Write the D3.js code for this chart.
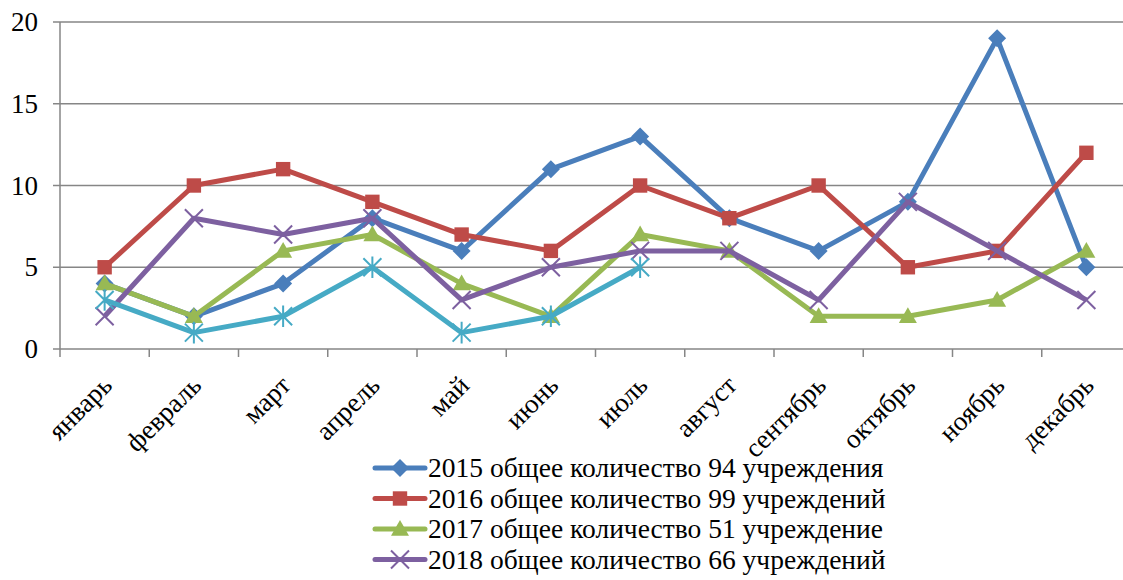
<!DOCTYPE html>
<html>
<head>
<meta charset="utf-8">
<script src="https://cdn.jsdelivr.net/npm/d3@7"></script>
<style>
  body { margin: 0; background: #fff; }
</style>
</head>
<body>
<div id="chart"></div>
<script>
const months = ["январь", "февраль", "март", "апрель", "май", "июнь", "июль", "август", "сентябрь", "октябрь", "ноябрь", "декабрь"];
const yTicks = [0, 5, 10, 15, 20];

const values2015 = [4, 2, 4, 8, 6, 11, 13, 8, 6, 9, 19, 5];
const values2016 = [5, 10, 11, 9, 7, 6, 10, 8, 10, 5, 6, 12];
const values2017 = [4, 2, 6, 7, 4, 2, 7, 6, 2, 2, 3, 6];
const values2018 = [2, 8, 7, 8, 3, 5, 6, 6, 3, 9, 6, 3];
const values2019 = [3, 1, 2, 5, 1, 2, 5];

const seriesNames = [
  "2015 общее количество 94 учреждения",
  "2016 общее количество 99 учреждений",
  "2017 общее количество 51 учреждение",
  "2018 общее количество 66 учреждений"
];

const series = [
  { name: seriesNames[0], values: values2015, color: "#4A7EBB", marker: "diamond" },
  { name: seriesNames[1], values: values2016, color: "#BE4B48", marker: "square" },
  { name: seriesNames[2], values: values2017, color: "#98B954", marker: "triangle" },
  { name: seriesNames[3], values: values2018, color: "#7D60A0", marker: "cross" },
  { name: "2019", values: values2019, color: "#46AAC5", marker: "star", noLegend: true }
];

const width = 1123, height = 580;
const FONT = "'Liberation Serif', 'Times New Roman', serif";
const svg = d3.select("#chart").append("svg")
  .attr("width", width).attr("height", height)
  .style("font-family", FONT);

const x = d3.scaleBand().domain(months).range([60, 1131]).paddingInner(0).paddingOuter(0);
const y = d3.scaleLinear().domain([0, 20]).range([349, 22]);
const cx = d => x(d) + x.bandwidth() / 2;

// gridlines
svg.selectAll(".grid")
  .data(yTicks.filter(t => t > 0))
  .enter()
  .append("line")
  .attr("x1", 60).attr("x2", width)
  .attr("y1", d => y(d)).attr("y2", d => y(d))
  .attr("stroke", "#868686")
  .attr("stroke-width", 1.5);

// y axis
svg.append("line")
  .attr("x1", 60).attr("x2", 60).attr("y1", y(20)).attr("y2", y(0))
  .attr("stroke", "#868686").attr("stroke-width", 1.5);

svg.selectAll(".ytick")
  .data(yTicks)
  .enter()
  .append("line")
  .attr("x1", 53).attr("x2", 60)
  .attr("y1", d => y(d)).attr("y2", d => y(d))
  .attr("stroke", "#868686").attr("stroke-width", 1.5);

svg.selectAll(".ylabel")
  .data(yTicks)
  .enter()
  .append("text")
  .attr("x", 38)
  .attr("y", d => y(d) + 9)
  .attr("text-anchor", "end")
  .attr("font-size", "27px")
  .text(d => d);

// x axis
svg.append("line")
  .attr("x1", 60).attr("x2", width).attr("y1", y(0)).attr("y2", y(0))
  .attr("stroke", "#868686").attr("stroke-width", 1.5);

const tickPos = months.map(m => x(m)).concat([x(months[months.length - 1]) + x.bandwidth()]);
svg.selectAll(".xtick")
  .data(tickPos)
  .enter()
  .append("line")
  .attr("x1", d => d).attr("x2", d => d)
  .attr("y1", y(0)).attr("y2", y(0) + 8)
  .attr("stroke", "#868686").attr("stroke-width", 1.5);

svg.selectAll(".xlabel")
  .data(months)
  .enter()
  .append("text")
  .attr("transform", d => `translate(${cx(d) + 9},${387}) rotate(-45)`)
  .attr("text-anchor", "end")
  .attr("font-size", "27px")
  .text(d => d);

// markers
function drawMarker(g, type, color, size) {
  const s = size;
  if (type === "diamond") {
    g.append("path").attr("d", `M0,${-s}L${s},0L0,${s}L${-s},0Z`).attr("fill", color);
  } else if (type === "square") {
    g.append("rect").attr("x", -s * 0.8).attr("y", -s * 0.8).attr("width", s * 1.6).attr("height", s * 1.6).attr("fill", color);
  } else if (type === "triangle") {
    g.append("path").attr("d", `M0,${-s}L${s},${s * 0.75}L${-s},${s * 0.75}Z`).attr("fill", color);
  } else if (type === "cross") {
    g.append("path").attr("d", `M${-s},${-s}L${s},${s}M${-s},${s}L${s},${-s}`)
      .attr("stroke", color).attr("stroke-width", 2);
  } else if (type === "star") {
    g.append("path").attr("d", `M${-s},${-s}L${s},${s}M${-s},${s}L${s},${-s}M0,${-s * 1.2}L0,${s * 1.2}`)
      .attr("stroke", color).attr("stroke-width", 2);
  }
}

const line = d3.line()
  .x((d, i) => cx(months[i]))
  .y(d => y(d));

series.forEach(s => {
  svg.append("path")
    .datum(s.values)
    .attr("fill", "none")
    .attr("stroke", s.color)
    .attr("stroke-width", 5)
    .attr("stroke-linejoin", "round")
    .attr("d", line);

  s.values.forEach((v, i) => {
    const g = svg.append("g").attr("transform", `translate(${cx(months[i])},${y(v)})`);
    drawMarker(g, s.marker, s.color, 9);
  });
});

// legend
const legendY = [468, 498.5, 529, 559.5];
series.filter(s => !s.noLegend).forEach((s, i) => {
  const ly = legendY[i];
  svg.append("line")
    .attr("x1", 375).attr("x2", 425).attr("y1", ly).attr("y2", ly)
    .attr("stroke", s.color).attr("stroke-width", 5).attr("stroke-linecap", "round");
  const g = svg.append("g").attr("transform", `translate(400,${ly})`);
  drawMarker(g, s.marker, s.color, 9);
  svg.append("text")
    .attr("x", 428)
    .attr("y", ly + 9)
    .attr("font-size", "27.5px")
    .text(s.name);
});
</script>
</body>
</html>
